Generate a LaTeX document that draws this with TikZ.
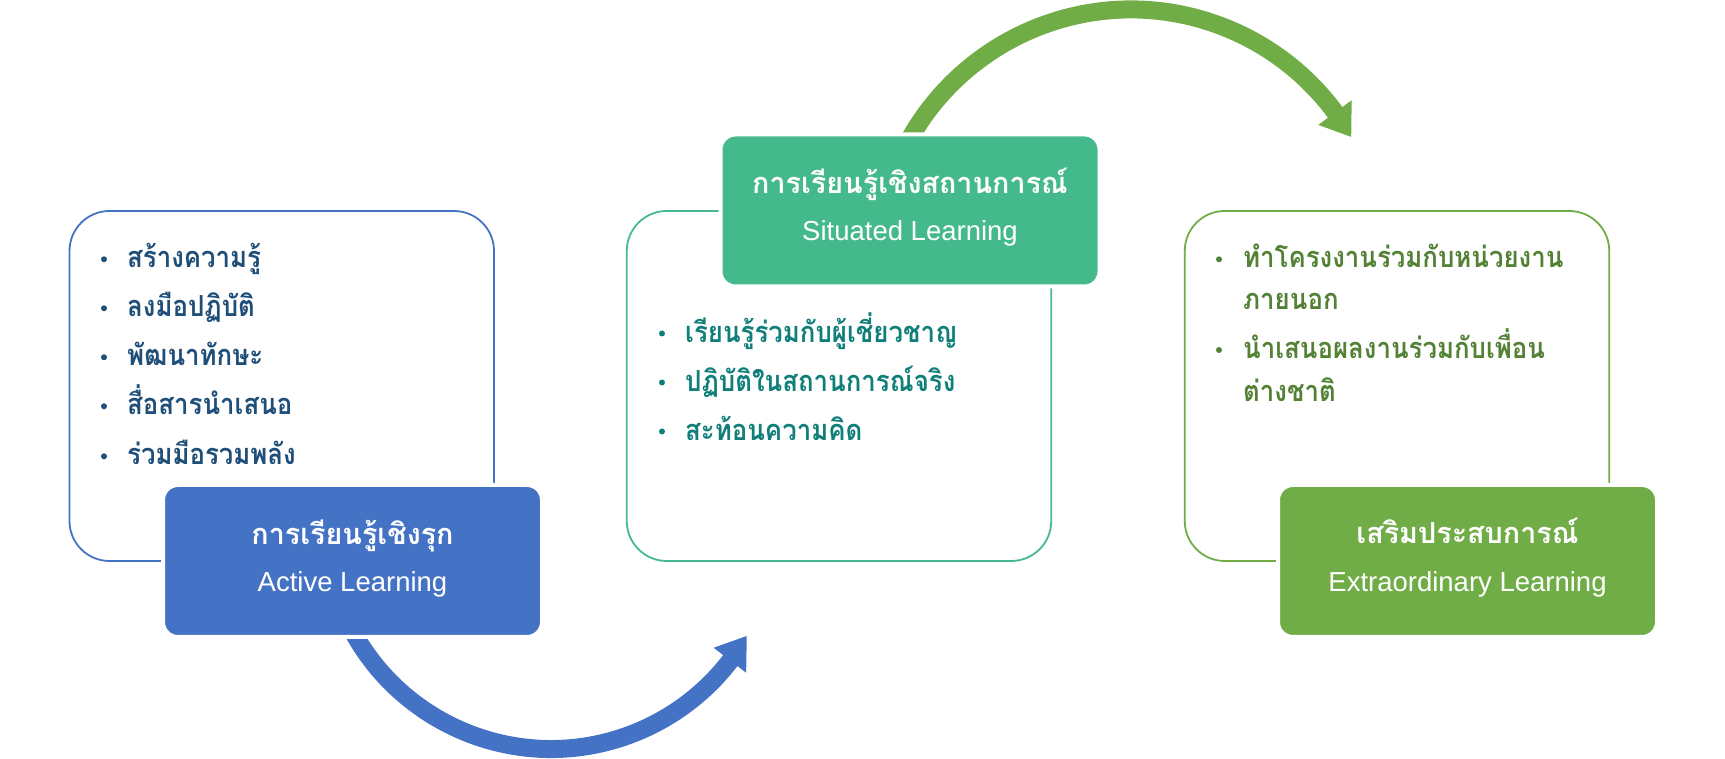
\documentclass[tikz,border=0pt]{standalone}
\usepackage{fontspec}
\setmainfont{Liberation Sans}
\newfontfamily\thaib[Script=Thai,FakeStretch=0.89]{Loma}
\newfontfamily\thait[Script=Thai,FakeStretch=0.99]{Loma}
\definecolor{cblue}{HTML}{4472C4}
\definecolor{cteal}{HTML}{44BA8C}
\definecolor{cgreen}{HTML}{70AD47}
\definecolor{tblue}{HTML}{1F4E79}
\definecolor{tteal}{HTML}{107F7A}
\definecolor{tgreen}{HTML}{538135}
\tikzset{
  outl/.style={draw=#1, line width=1.8pt, rounded corners=40pt, minimum width=424.5pt, minimum height=350pt, inner sep=0pt},
  fillbox/.style={fill=#1, draw=white, line width=4pt, rounded corners=15pt, minimum width=379pt, minimum height=152pt, inner sep=0pt},
  thtitle/.style={text=white, font=\thait\bfseries\fontsize{29}{34}\selectfont, anchor=base, inner sep=0pt},
  entitle/.style={text=white, font=\fontsize{27.5}{32}\selectfont, anchor=base, inner sep=0pt},
  bl/.style={text=#1, font=\thaib\bfseries\fontsize{29}{34}\selectfont, anchor=base west, inner sep=0pt},
  dotb/.style={circle, fill=#1, minimum size=6pt, inner sep=0pt},
  shaft/.style={draw=#1, line width=18pt},
}
\begin{document}
\begin{tikzpicture}[x=1pt,y=1pt]
\useasboundingbox (0,0) rectangle (1725,759);
% outline boxes
\node[outl=cblue] (o1) at (281.75,373) {};
\node[outl=cteal] (o2) at (839,373) {};
\node[outl=cgreen] (o3) at (1397,373) {};
% blue circular arrow
\begin{scope}[shift={(551,236)}]
  \coordinate (bs) at (200:226);
  \coordinate (bi) at (-37.5:205);
  \coordinate (bo) at (-37.5:246);
  \coordinate (bt) at (-30:226);
  \draw[shaft=cblue] (bs) arc[start angle=200, end angle=323, radius=226];
  \fill[cblue] (bi) -- (bo) -- (bt) -- cycle;
\end{scope}
% green circular arrow
\begin{scope}[shift={(1131,495.5)}]
  \coordinate (gs) at (160:254);
  \coordinate (gi) at (36.5:233);
  \coordinate (go) at (36.5:274.5);
  \coordinate (gt) at (29.9:254);
  \draw[shaft=cgreen] (gs) arc[start angle=160, end angle=36, radius=254];
  \fill[cgreen] (gi) -- (go) -- (gt) -- cycle;
\end{scope}
% filled title boxes
\node[fillbox=cblue] (f1) at (352.5,198) {};
\node[fillbox=cteal] (f2) at (910,548.5) {};
\node[fillbox=cgreen] (f3) at (1467.5,198) {};
% titles
\node[thtitle] (t1a) at (352.5,214) {การเรียนรู้เชิงรุก};
\node[entitle] (t1b) at (352.5,167.3) {Active Learning};
\node[thtitle] (t2a) at (910,565.7) {การเรียนรู้เชิงสถานการณ์};
\node[entitle] (t2b) at (910,518) {Situated Learning};
\node[thtitle] (t3a) at (1467.5,215) {เสริมประสบการณ์};
\node[entitle] (t3b) at (1467.5,167.3) {Extraordinary Learning};
% box 1 bullets
\node[dotb=tblue] (d11) at (104,499.7) {};
\node[dotb=tblue] (d12) at (104,450.7) {};
\node[dotb=tblue] (d13) at (104,401.7) {};
\node[dotb=tblue] (d14) at (104,352.7) {};
\node[dotb=tblue] (d15) at (104,302.7) {};
\node[bl=tblue] (l11) at (127,491) {สร้างความรู้};
\node[bl=tblue] (l12) at (127,442) {ลงมือปฏิบัติ};
\node[bl=tblue] (l13) at (127,393) {พัฒนาทักษะ};
\node[bl=tblue] (l14) at (127,344) {สื่อสารนำเสนอ};
\node[bl=tblue] (l15) at (127,294) {ร่วมมือรวมพลัง};
% box 2 bullets
\node[dotb=tteal] (d21) at (662,425.5) {};
\node[dotb=tteal] (d22) at (662,376.5) {};
\node[dotb=tteal] (d23) at (662,327.5) {};
\node[bl=tteal] (l21) at (685,416) {เรียนรู้ร่วมกับผู้เชี่ยวชาญ};
\node[bl=tteal] (l22) at (685,367) {ปฏิบัติในสถานการณ์จริง};
\node[bl=tteal] (l23) at (685,318) {สะท้อนความคิด};
% box 3 bullets
\node[dotb=tgreen] (d31) at (1219,499.7) {};
\node[dotb=tgreen] (d32) at (1219,409) {};
\node[bl=tgreen] (l31) at (1243,491) {ทำโครงงานร่วมกับหน่วยงาน};
\node[bl=tgreen] (l32) at (1243,449) {ภายนอก};
\node[bl=tgreen] (l33) at (1243,400) {นำเสนอผลงานร่วมกับเพื่อน};
\node[bl=tgreen] (l34) at (1243,357) {ต่างชาติ};
\end{tikzpicture}
\end{document}
